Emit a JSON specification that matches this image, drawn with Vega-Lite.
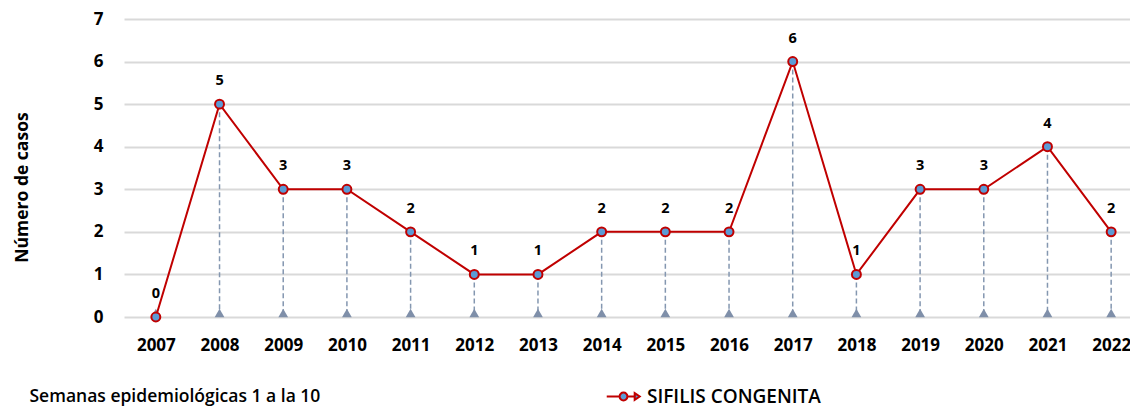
{
  "$schema": "https://vega.github.io/schema/vega-lite/v6.json",
  "width": 1019,
  "height": 298,
  "padding": {"left": 13, "top": 10, "right": 0, "bottom": 0},
  "background": "white",
  "config": {
    "view": {"stroke": null},
    "font": "Open Sans"
  },
  "data": {
    "values": [
      {"anio": "2007", "casos": 0, "serie": "SIFILIS CONGENITA"},
      {"anio": "2008", "casos": 5, "serie": "SIFILIS CONGENITA"},
      {"anio": "2009", "casos": 3, "serie": "SIFILIS CONGENITA"},
      {"anio": "2010", "casos": 3, "serie": "SIFILIS CONGENITA"},
      {"anio": "2011", "casos": 2, "serie": "SIFILIS CONGENITA"},
      {"anio": "2012", "casos": 1, "serie": "SIFILIS CONGENITA"},
      {"anio": "2013", "casos": 1, "serie": "SIFILIS CONGENITA"},
      {"anio": "2014", "casos": 2, "serie": "SIFILIS CONGENITA"},
      {"anio": "2015", "casos": 2, "serie": "SIFILIS CONGENITA"},
      {"anio": "2016", "casos": 2, "serie": "SIFILIS CONGENITA"},
      {"anio": "2017", "casos": 6, "serie": "SIFILIS CONGENITA"},
      {"anio": "2018", "casos": 1, "serie": "SIFILIS CONGENITA"},
      {"anio": "2019", "casos": 3, "serie": "SIFILIS CONGENITA"},
      {"anio": "2020", "casos": 3, "serie": "SIFILIS CONGENITA"},
      {"anio": "2021", "casos": 4, "serie": "SIFILIS CONGENITA"},
      {"anio": "2022", "casos": 2, "serie": "SIFILIS CONGENITA"}
    ]
  },
  "encoding": {
    "x": {
      "field": "anio",
      "type": "ordinal",
      "scale": {"type": "point", "padding": 0.5},
      "axis": {
        "title": "Semanas epidemiológicas 1 a la 10",
        "titleFont": "Open Sans",
        "titleFontSize": 17.5,
        "titleFontWeight": 600,
        "titleColor": "#000000",
        "titleAnchor": "start",
        "titleAlign": "left",
        "titleX": -95,
        "titleY": 70,
        "labelAngle": 0,
        "labelFont": "Open Sans",
        "labelFontSize": 17,
        "labelFontWeight": "bold",
        "labelColor": "#000000",
        "labelPadding": 20,
        "ticks": false,
        "domain": false,
        "grid": false
      }
    },
    "y": {
      "field": "casos",
      "type": "quantitative",
      "scale": {"domain": [0, 7], "nice": false},
      "axis": {
        "title": "Número de casos",
        "titleFont": "Open Sans",
        "titleFontSize": 17.5,
        "titleFontWeight": "bold",
        "titleColor": "#000000",
        "titlePadding": 62,
        "titleY": 168,
        "values": [0, 1, 2, 3, 4, 5, 6, 7],
        "labelFont": "Open Sans",
        "labelFontSize": 17,
        "labelFontWeight": "bold",
        "labelColor": "#000000",
        "labelPadding": 21,
        "ticks": false,
        "domain": false,
        "grid": true,
        "gridColor": "#D9D9D9",
        "gridWidth": 2
      }
    }
  },
  "layer": [
    {
      "mark": {"type": "rule", "color": "#8497B0", "strokeWidth": 1.5, "strokeDash": [5, 3]},
      "encoding": {
        "y2": {"datum": 0}
      }
    },
    {
      "mark": {"type": "point", "shape": "triangle-up", "filled": true, "color": "#7F8FA9", "size": 95, "opacity": 1, "yOffset": -4},
      "encoding": {
        "y": {"datum": 0}
      }
    },
    {
      "mark": {"type": "line", "color": "#C00000", "strokeWidth": 2}
    },
    {
      "mark": {"type": "point", "filled": true, "size": 80, "stroke": "#C00000", "strokeWidth": 2, "opacity": 1},
      "encoding": {
        "fill": {
          "field": "serie",
          "type": "nominal",
          "scale": {"range": ["#5B9BD5"]},
          "legend": {
            "title": null,
            "orient": "none",
            "legendX": 487,
            "legendY": 365,
            "symbolType": "M-1.5,0L-0.35,0M0.35,0L1.1,0M1.0,-0.3L1.45,0L1.0,0.3ZM-0.35,0A0.35,0.35 0 1,1 0.35,0A0.35,0.35 0 1,1 -0.35,0Z",
            "symbolSize": 500,
            "symbolStrokeColor": "#C00000",
            "symbolStrokeWidth": 2,
            "labelFont": "Open Sans",
            "labelFontSize": 19,
            "labelFontWeight": 600,
            "labelColor": "#000000",
            "labelOffset": 11,
            "labelLimit": 400
          }
        }
      }
    },
    {
      "mark": {"type": "text", "dy": -23, "fontSize": 14.5, "fontWeight": "bold", "font": "Open Sans", "color": "#000000"},
      "encoding": {
        "text": {"field": "casos", "type": "quantitative"}
      }
    }
  ]
}
